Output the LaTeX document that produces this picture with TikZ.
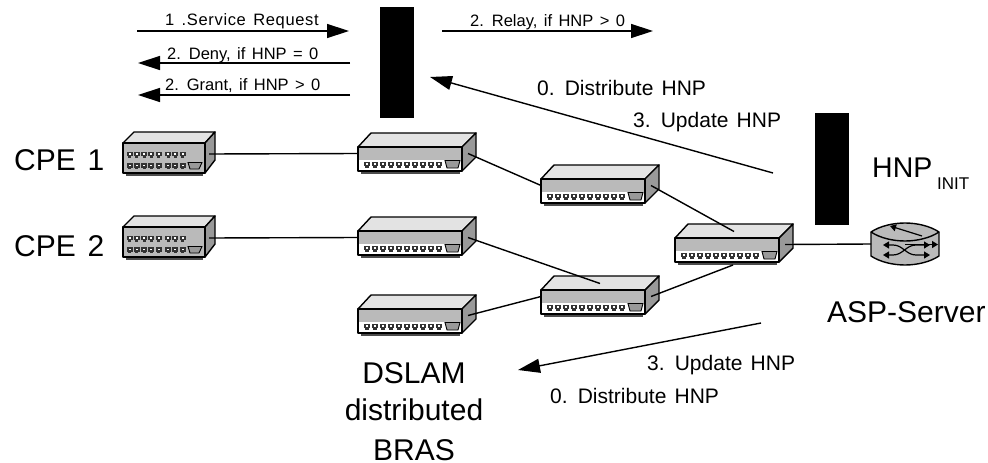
\documentclass[tikz,border=0pt]{standalone}
\usepackage{fontspec}
\setmainfont{Liberation Sans}[WordSpace=1.4]
\usetikzlibrary{arrows.meta}
\definecolor{frontg}{gray}{0.73}
\definecolor{topg}{gray}{0.89}
\definecolor{sideg}{gray}{0.6}
\definecolor{portg}{gray}{0.2}
\tikzset{
  x=1pt,y=-1pt,
  hull/.style={draw=black,line width=1.4pt,line join=round},
  link/.style={draw=black,line width=1.4pt},
  flow/.style={draw=black,line width=1.4pt,-{Triangle[length=22pt,width=14pt]}},
  bar/.style={fill=black,draw=none,inner sep=0pt,anchor=north west},
  small/.style={inner sep=0pt,anchor=base west,font=\fontsize{16.5}{16.5}\selectfont},
  mid/.style={inner sep=0pt,anchor=base west,font=\fontsize{21}{21}\selectfont},
  big/.style={inner sep=0pt,anchor=base west,font=\fontsize{30}{30}\selectfont},
  bigc/.style={inner sep=0pt,anchor=base,font=\fontsize{30}{30}\selectfont},
  port/.pic={\fill[portg] (-3,-3) rectangle (3,1.5); \fill[portg] (-1.6,1.5) rectangle (1.6,3.2); \fill[white] (-1,-1.4) rectangle (1,0.4);},
  bswitch/.pic={
    \fill[black!70] (3,22) rectangle (102,26.5);
    \draw[hull,fill=topg] (0,0) -- (13,-14) -- (118,-14) -- (104,0) -- cycle;
    \draw[hull,fill=sideg] (104,0) -- (118,-14) -- (118,10) -- (104,24) -- cycle;
    \draw[hull,fill=frontg] (0,0) rectangle (104,24);
    \fill[white] (1,12.5) rectangle (103,23);
    \foreach \i in {0,...,9} \pic at (9+8*\i,17.5) {port};
    \draw[fill=sideg,line width=.9pt] (87,13.5) -- (102,13.5) -- (100,21) -- (89,21) -- cycle;
    \coordinate (-w) at (0,6.5);
    \coordinate (-e) at (110,6.5);
    \coordinate (-t) at (59,-6.5);
    \coordinate (-b) at (58,27);
  },
  cswitch/.pic={
    \fill[black!70] (3,29) rectangle (80,33);
    \draw[hull,fill=topg] (0,0) -- (11,-11) -- (92,-11) -- (82,0) -- cycle;
    \draw[hull,fill=sideg] (82,0) -- (92,-11) -- (92,17) -- (82,30) -- cycle;
    \draw[hull,fill=frontg] (0,0) rectangle (82,30);
    \foreach \i in {0,1,2,3,4,5.3,6.3,7.3} {
      \pic at (6.5+7.3*\i,11.5) {port};
      \pic at (6.5+7.3*\i,23) {port};
    }
    \draw[fill=sideg,line width=.9pt] (65,19.5) -- (79,19.5) -- (76,26) -- (67,26) -- cycle;
    \coordinate (-e) at (86,11);
  }
}
\begin{document}
\begin{tikzpicture}
\useasboundingbox (0,0) rectangle (988,463);
% black bars
\node[bar,minimum width=34pt,minimum height=111pt] (barA) at (380,7) {};
\node[bar,minimum width=34pt,minimum height=112pt] (barB) at (815,113) {};
% switches
\pic (cpeA) at (123,143) {cswitch};
\pic (cpeB) at (123,227) {cswitch};
\pic (brA) at (358,147) {bswitch};
\pic (brB) at (358,231) {bswitch};
\pic (brC) at (358,309) {bswitch};
\pic (agA) at (541,179) {bswitch};
\pic (agB) at (541,290) {bswitch};
\pic (core) at (675,238) {bswitch};
% router
\draw[hull,fill=frontg] (871,232) -- (871,256) .. controls (880,262) and (893,265) .. (905,265) .. controls (917,265) and (930,262) .. (939,256) -- (939,232) .. controls (930,226) and (917,223) .. (905,223) .. controls (893,223) and (880,226) .. (871,232) -- cycle;
\draw[hull] (871,232) .. controls (880,238) and (893,241) .. (905,241) .. controls (917,241) and (930,238) .. (939,232);
\coordinate (rtr) at (871,244);
\draw[line width=1.2pt,-{Triangle[length=6pt,width=7pt]}] (922,236) -- (890,226);
\draw[line width=1.2pt,{Triangle[length=6pt,width=7pt]}-{Triangle[length=6pt,width=7pt]}] (883,245) -- (893,245) .. controls (903,245) and (906,255) .. (916,255) -- (930,255);
\draw[line width=1.2pt,{Triangle[length=6pt,width=7pt]}-{Triangle[length=6pt,width=7pt]}] (883,255) -- (893,255) .. controls (903,255) and (906,245) .. (916,245) -- (930,245);
\draw[line width=1.2pt,-{Triangle[length=6pt,width=7pt]}] (905,244.5) -- (938,244.5);
% links
\draw[link] (cpeA-e) -- (brA-w);
\draw[link] (cpeB-e) -- (brB-w);
\draw[link] (brA-e) -- (agA-w);
\draw[link] (brB-e) -- (agB-t);
\draw[link] (brC-e) -- (agB-w);
\draw[link] (agA-e) -- (core-t);
\draw[link] (agB-e) -- (core-b);
\draw[link] (core-e) -- (rtr);
% message arrows
\coordinate (reqS) at (137,31); \coordinate (reqE) at (349,31);
\coordinate (denS) at (350,63); \coordinate (denE) at (138,63);
\coordinate (graS) at (350,95); \coordinate (graE) at (138,95);
\coordinate (relS) at (442,31); \coordinate (relE) at (653,31);
\coordinate (disS) at (773,173); \coordinate (disE) at (430,77);
\coordinate (lowS) at (761,323); \coordinate (lowE) at (518,370);
\draw[flow] (reqS) -- (reqE);
\draw[flow] (denS) -- (denE);
\draw[flow] (graS) -- (graE);
\draw[flow] (relS) -- (relE);
\draw[flow] (disS) -- (disE);
\draw[flow] (lowS) -- (lowE);
% labels
\node[small] (t1) at (165,25) {\addfontfeature{LetterSpace=4}1 .Service Request};
\node[small] (t2) at (167,59) {2. Deny, if HNP = 0};
\node[small] (t3) at (165,90) {2. Grant, if HNP > 0};
\node[small] (t4) at (470,26) {2. Relay, if HNP > 0};
\node[mid] (t5) at (537,95) {0. Distribute HNP};
\node[mid] (t6) at (633,127) {3. Update HNP};
\node[mid] (t7) at (647,370) {3. Update HNP};
\node[mid] (t8) at (550,403) {0. Distribute HNP};
\node[big] (c1) at (14,170) {CPE 1};
\node[big] (c2) at (14,256) {CPE 2};
\node[inner sep=0pt,anchor=base west,font=\fontsize{28.5}{28.5}\selectfont] (h) at (872,177) {HNP};
\node[inner sep=0pt,anchor=base west,font=\fontsize{17}{17}\selectfont] (hi) at (937,189) {INIT};
\node[big] (asp) at (827,322) {ASP-Server};
\node[bigc] (d1) at (414,383) {DSLAM};
\node[bigc] (d2) at (414,420) {distributed};
\node[bigc] (d3) at (414,460) {BRAS};
\end{tikzpicture}
\end{document}
